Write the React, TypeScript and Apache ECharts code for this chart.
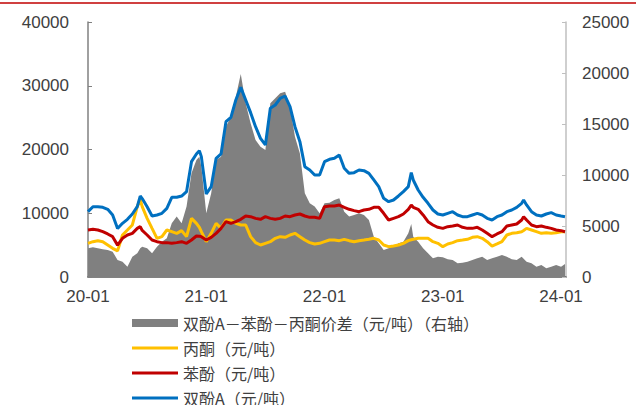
import React, { useEffect, useRef } from "react";
import * as echarts from "echarts";

// x positions: months since 2020-01 (0 = 2020-01-01)
const months = [
  0, 0.5, 1, 1.5, 2, 2.5, 3, 3.5, 4, 4.5, 5, 5.3, 5.5, 6, 6.5, 7, 7.5, 8, 8.5, 9, 9.5, 10, 10.5, 11, 11.3, 11.5,
  12, 12.5, 13, 13.5, 14, 14.5, 15, 15.5, 16, 16.5, 17, 17.5, 18, 18.5, 19, 19.5, 20, 20.5, 21, 21.5, 22, 22.5, 23, 23.5,
  24, 24.5, 25, 25.5, 26, 26.5, 27, 27.5, 28, 28.5, 29, 29.5, 30, 30.5, 31, 31.5, 32, 32.5, 32.8, 33, 33.5, 34, 34.5, 35, 35.5,
  36, 36.5, 37, 37.5, 38, 38.5, 39, 39.5, 40, 40.5, 41, 41.5, 42, 42.5, 43, 43.5, 44, 44.2, 44.5, 45, 45.5, 46, 46.5, 47, 47.5,
  48, 48.4,
];

const bpa = [
  10250, 11030, 11030, 10930, 10615, 9725, 7600, 8420, 9050, 9880, 11030, 12700, 12300, 11030, 9570, 9725, 9990, 10770, 12500, 12500, 12700, 13390, 18090, 19300, 19820, 18880,
  13020, 14170, 18615, 19300, 24370, 25050, 27770, 29750, 27770, 25780, 23580, 21750, 20710, 26460, 26980, 28030, 28390, 26720, 23580, 21230, 17310, 16790, 16000, 16000,
  18090, 18460, 18615, 19140, 17050, 16260, 16370, 16790, 16680, 16260, 15220, 14170, 12340, 11820, 12080, 12710, 13390, 14170, 16370, 15220, 13650, 12500, 11560, 10510, 9880,
  9725, 9990, 10250, 9725, 9460, 9460, 9725, 9990, 9725, 9200, 8940, 9460, 9725, 10250, 10510, 10930, 11560, 12080, 11300, 10250, 9725, 9570, 9880, 10090, 9725,
  9570, 9460,
];

const phenol = [
  7370, 7480, 7370, 7110, 6750, 6330, 5000, 6070, 6590, 6850, 7630, 7900, 7300, 6590, 5800, 5540, 5390, 5390, 5280, 5390, 5540, 5280, 5800, 6430, 6400, 6330,
  5800, 6220, 6850, 7630, 8680, 8420, 8680, 9050, 9570, 9460, 9200, 9050, 9460, 9200, 9050, 9200, 9570, 9460, 9730, 9880, 9570, 9360, 9360, 9200,
  11030, 11140, 11140, 11290, 10930, 10620, 10410, 10250, 10510, 10620, 10930, 10930, 9990, 8940, 9200, 9460, 9880, 10620, 11290, 10930, 10620, 9730, 8680, 8160, 7790,
  7630, 7900, 8000, 8160, 7790, 7630, 7630, 7790, 7370, 6850, 6330, 6750, 7110, 8000, 8160, 8310, 8940, 9460, 8940, 8160, 7900, 8000, 7790, 7630, 7370,
  7270, 7110,
];

const acetone = [
  5280, 5540, 5700, 5540, 5020, 4500, 4100, 6590, 7370, 8160, 11030, 12180, 11030, 9200, 7630, 6070, 6330, 7370, 7110, 6850, 7270, 6330, 9200, 8420, 7800, 7110,
  5540, 6850, 8420, 7630, 8940, 8940, 8420, 8160, 8160, 6330, 5390, 5020, 5280, 5540, 6070, 6330, 6220, 6590, 6850, 6330, 5800, 5390, 5180, 5280,
  5540, 5800, 5800, 5700, 5910, 5700, 5540, 5700, 5800, 5910, 6070, 5800, 5020, 4760, 4860, 5020, 5280, 5700, 5850, 5910, 6070, 6070, 6070, 5540, 5280,
  4760, 5180, 5390, 5700, 5800, 5910, 6220, 6330, 6070, 5540, 4860, 5180, 5540, 6590, 6850, 6950, 7110, 7300, 7630, 7370, 7110, 6850, 6950, 6850, 6950,
  7110, 7110,
];

const spread = [
  2810, 2910, 2810, 2710, 2650, 2480, 1670, 1500, 1010, 1990, 2320, 2810, 2970, 2810, 2320, 2970, 3460, 3790, 5260, 5920, 5260, 6900, 10160, 11470, 11800, 10820,
  6240, 8200, 11470, 11800, 14740, 15720, 17680, 19900, 17030, 15070, 13430, 12780, 12450, 17030, 17520, 18010, 18170, 16700, 13760, 12120, 8200, 7220, 6900, 6240,
  7220, 7290, 7550, 7710, 6400, 5920, 6080, 6240, 6080, 5590, 3950, 3300, 2650, 2810, 3040, 3300, 3460, 4280, 5200, 3950, 3460, 2810, 2320, 1830, 1990,
  1930, 1730, 1670, 1340, 1400, 1500, 1670, 1830, 1990, 1670, 1830, 1990, 2160, 1990, 1730, 1670, 1990, 1800, 1500, 1340, 1010, 1180, 850, 1010, 1180,
  1010, 1270,
];

const leftTicks = [0, 10000, 20000, 30000, 40000];
const rightTicks = [0, 5000, 10000, 15000, 20000, 25000];
const xTickLabels = ["20-01", "21-01", "22-01", "23-01", "24-01"];

const names = [
  "双酚A－苯酚－丙酮价差（元/吨）（右轴）",
  "丙酮（元/吨）",
  "苯酚（元/吨）",
  "双酚A（元/吨）",
];

const pair = (vals: number[]) => vals.map((v, i) => [months[i], v]);
const lineIcon = "path://M0,0H46V3H0Z";

export default function App() {
  const ref = useRef<HTMLDivElement>(null);
  useEffect(() => {
    if (!ref.current) return;
    const chart = echarts.init(ref.current, null, { renderer: "svg" });
    const axisFont = { fontFamily: "Liberation Sans, Arial, sans-serif", fontSize: 17, color: "#404040" };
    chart.setOption({
      animation: false,
      backgroundColor: "#ffffff",
      graphic: [
        { type: "line", shape: { x1: 0, y1: 3, x2: 636, y2: 3 }, style: { stroke: "#C00000", lineWidth: 1.5 } },
      ],
      grid: { left: 88, right: 70, top: 22, bottom: 128, containLabel: false },
      legend: {
        orient: "vertical",
        left: 127,
        top: 309,
        height: 200,
        itemWidth: 46,
        itemHeight: 8,
        itemGap: 7,
        symbolKeepAspect: true,
        itemStyle: { borderWidth: 0 },
        lineStyle: { width: 0 },
        textStyle: { fontFamily: "Noto Sans CJK SC, sans-serif", fontSize: 16, color: "#404040", lineHeight: 18 },
        data: [
          { name: names[0], icon: "rect" },
          { name: names[1], icon: lineIcon },
          { name: names[2], icon: lineIcon },
          { name: names[3], icon: lineIcon },
        ],
      },
      xAxis: {
        type: "value",
        min: 0,
        max: 48.5,
        interval: 12,
        axisLine: { show: true, lineStyle: { color: "#595959", width: 1.5 } },
        axisTick: { show: true, inside: true, length: 5, lineStyle: { color: "#595959" } },
        splitLine: { show: false },
        axisLabel: {
          ...axisFont,
          margin: 11,
          showMaxLabel: false,
          formatter: (v: number) => (v % 12 === 0 ? xTickLabels[v / 12] ?? "" : ""),
        },
      },
      yAxis: [
        {
          type: "value",
          min: leftTicks[0],
          max: leftTicks[leftTicks.length - 1],
          interval: 10000,
          axisLine: { show: true, lineStyle: { color: "#808080", width: 1.5 } },
          axisTick: { show: true, inside: true, length: 4, lineStyle: { color: "#808080" } },
          splitLine: { show: false },
          axisLabel: { ...axisFont, margin: 19, formatter: (v: number) => String(v) },
        },
        {
          type: "value",
          min: rightTicks[0],
          max: rightTicks[rightTicks.length - 1],
          interval: 5000,
          position: "right",
          axisLine: { show: true, lineStyle: { color: "#BFBFBF", width: 1.5 } },
          axisTick: { show: true, inside: true, length: 4, lineStyle: { color: "#BFBFBF" } },
          splitLine: { show: false },
          axisLabel: { ...axisFont, margin: 16, formatter: (v: number) => String(v) },
        },
      ],
      series: [
        {
          name: names[0],
          type: "line",
          yAxisIndex: 1,
          data: pair(spread),
          symbol: "none",
          lineStyle: { width: 0, color: "#808080" },
          itemStyle: { color: "#808080" },
          areaStyle: { color: "#808080", opacity: 1 },
          z: 1,
        },
        {
          name: names[1],
          type: "line",
          data: pair(acetone),
          symbol: "none",
          lineStyle: { width: 3, color: "#FFC000" },
          itemStyle: { color: "#FFC000" },
          z: 2,
        },
        {
          name: names[2],
          type: "line",
          data: pair(phenol),
          symbol: "none",
          lineStyle: { width: 3, color: "#C00000" },
          itemStyle: { color: "#C00000" },
          z: 3,
        },
        {
          name: names[3],
          type: "line",
          data: pair(bpa),
          symbol: "none",
          lineStyle: { width: 3, color: "#0070C0" },
          itemStyle: { color: "#0070C0" },
          z: 4,
        },
      ],
    });
    return () => chart.dispose();
  }, []);
  return (
    <div
      ref={ref}
      style={{ position: "fixed", left: 0, top: 0, width: 636, height: 405, background: "#fff" }}
    />
  );
}
